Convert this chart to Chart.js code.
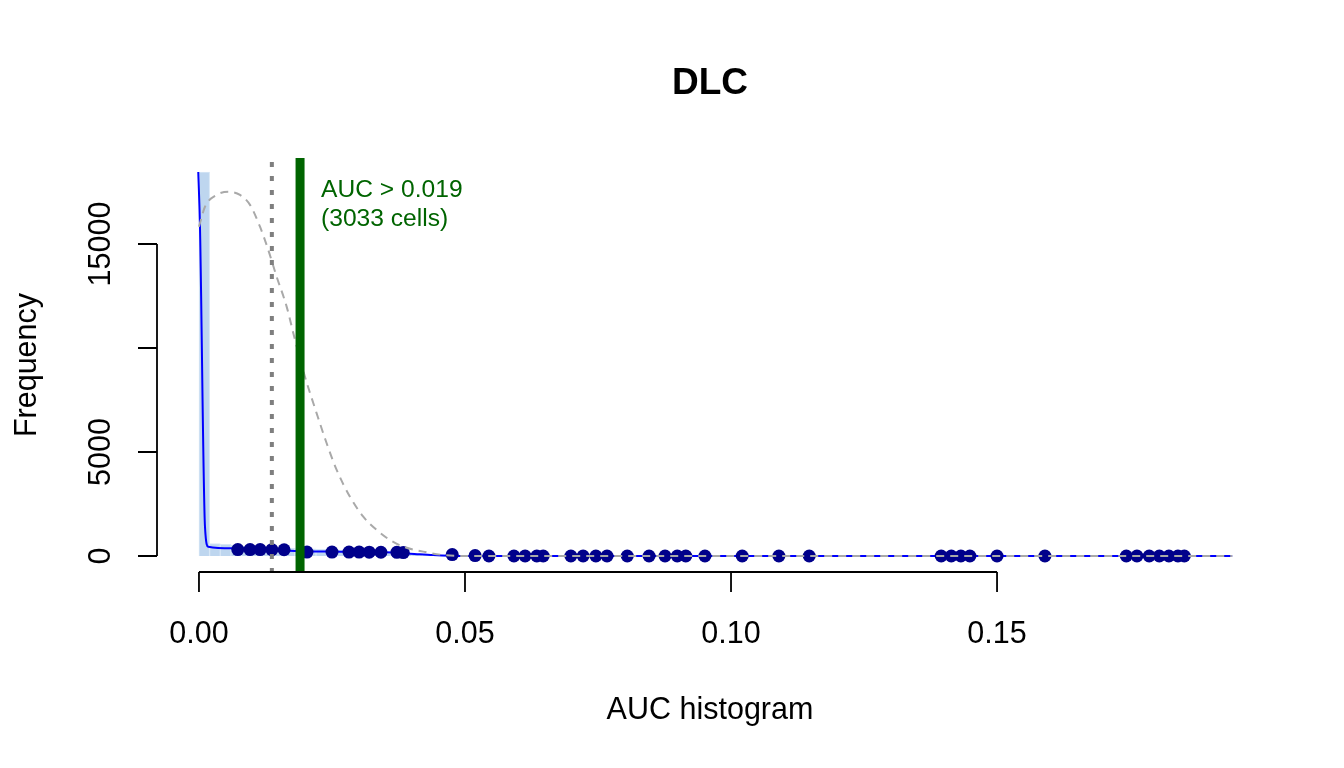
<!DOCTYPE html>
<html>
<head>
<meta charset="utf-8">
<script src="https://cdn.jsdelivr.net/npm/chart.js@4"></script>
<style>
  html, body { margin: 0; padding: 0; background: #fff; }
  canvas { display: block; }
</style>
</head>
<body>
<canvas id="auc-chart" width="1344" height="768"></canvas>
<script>
// titles and axes
const chartTitle = 'DLC';
const xTitle = 'AUC histogram';
const yTitle = 'Frequency';
const xTicks = [0, 0.05, 0.10, 0.15];
const xTickLabels = ['0.00', '0.05', '0.10', '0.15'];
const yTicks = [0, 5000, 10000, 15000];
const yTickLabels = ['0', '5000', '', '15000']; // R drops the 10000 label
const xLimits = [-0.0077, 0.1998];
const yLimits = [-769, 19135];

// threshold lines
const thresholdAUC = 0.019;
const thresholdCells = 3033;
const dottedAUC = 0.0137;

// histogram (bin mids, width 0.002)
const histMids = [0.001, 0.003, 0.005, 0.007, 0.009, 0.011, 0.013, 0.015, 0.017, 0.019,
  0.021, 0.023, 0.025, 0.027, 0.029, 0.031, 0.033, 0.035, 0.037, 0.039,
  0.041, 0.043, 0.045, 0.047];
const histCounts = [18460, 600, 560, 520, 480, 450, 420, 400, 380, 360,
  340, 320, 300, 290, 270, 250, 230, 200, 160, 110,
  70, 35, 15, 5];

// blue density line
const densX = [-0.00013, 0.00019, 0.00113, 0.00175, 0.0064, 0.012, 0.016, 0.020, 0.025,
  0.030, 0.035, 0.038, 0.041, 0.044, 0.047, 0.050, 0.055, 0.1942];
const densY = [18460, 15830, 1410, 447, 370, 340, 270, 230, 215,
  200, 175, 140, 90, 45, 15, 5, 0, 0];

// grey dashed curve
const curveX = [0.0, 0.00113, 0.00333, 0.00551, 0.00771, 0.00959, 0.01147, 0.01303, 0.0146,
  0.01648, 0.01805, 0.01992, 0.02212, 0.024, 0.02588, 0.02838, 0.03088, 0.0334, 0.0359,
  0.0384, 0.04216, 0.04592, 0.0509, 0.1942];
const curveY = [15830, 16790, 17360, 17510, 17360, 16880, 15830, 14710, 13430,
  11990, 10390, 8620, 6860, 5420, 4140, 2850, 1890, 1250, 770,
  450, 210, 50, 0, 0];

// highlighted cells
const cellAUC = [0.0073, 0.0096, 0.0115, 0.0137, 0.0160, 0.0203, 0.0250, 0.0282, 0.0301,
  0.0320, 0.0342, 0.0372, 0.0384, 0.0476, 0.0519, 0.0545, 0.0592, 0.0613, 0.0635,
  0.0647, 0.0699, 0.0722, 0.0746, 0.0767, 0.0805, 0.0846, 0.0876, 0.0899, 0.0915,
  0.0951, 0.1021, 0.1090, 0.1147, 0.1395, 0.1414, 0.1432, 0.1449, 0.1500, 0.1590,
  0.1743, 0.1763, 0.1786, 0.1805, 0.1823, 0.1840, 0.1852];
const cellFreq = [310, 310, 310, 305, 300, 190, 190, 190, 190,
  185, 180, 175, 165, 70, 20, 0, 0, 0, 0,
  0, 0, 0, 0, 0, 0, 0, 0, 0, 0,
  0, 0, 0, 0, 0, 0, 0, 0, 0, 0,
  0, 0, 0, 0, 0, 0, 0];

const FONT = '"Liberation Sans", Arial, Helvetica, sans-serif';

const zip = (xs, ys) => xs.map((x, i) => ({ x: x, y: ys[i] }));

const rStyle = {
  id: 'rStyle',
  afterDatasetsDraw(chart) {
    const { ctx, chartArea, scales } = chart;
    const x = scales.x;
    ctx.save();
    // dotted grey line
    ctx.strokeStyle = '#7f7f7f';
    ctx.lineWidth = 4;
    ctx.setLineDash([5, 9]);
    ctx.beginPath();
    ctx.moveTo(x.getPixelForValue(dottedAUC), chartArea.top + 4);
    ctx.lineTo(x.getPixelForValue(dottedAUC), chartArea.bottom);
    ctx.stroke();
    // threshold
    ctx.setLineDash([]);
    ctx.strokeStyle = '#006400';
    ctx.lineWidth = 9;
    ctx.beginPath();
    ctx.moveTo(x.getPixelForValue(thresholdAUC), chartArea.top);
    ctx.lineTo(x.getPixelForValue(thresholdAUC), chartArea.bottom);
    ctx.stroke();
    ctx.restore();
  },
  afterDraw(chart) {
    const { ctx, chartArea, scales } = chart;
    const x = scales.x, y = scales.y;
    const midX = (chartArea.left + chartArea.right) / 2;
    const midY = (chartArea.top + chartArea.bottom) / 2;
    ctx.save();
    ctx.strokeStyle = '#000';
    ctx.fillStyle = '#000';
    ctx.lineWidth = 1.8;

    // x axis
    const ya = chartArea.bottom;
    ctx.beginPath();
    ctx.moveTo(x.getPixelForValue(xTicks[0]), ya);
    ctx.lineTo(x.getPixelForValue(xTicks[xTicks.length - 1]), ya);
    xTicks.forEach(t => {
      ctx.moveTo(x.getPixelForValue(t), ya);
      ctx.lineTo(x.getPixelForValue(t), ya + 20);
    });
    ctx.stroke();
    ctx.font = '30.5px ' + FONT;
    ctx.textAlign = 'center';
    ctx.textBaseline = 'alphabetic';
    xTicks.forEach((t, i) => ctx.fillText(xTickLabels[i], x.getPixelForValue(t), ya + 71));

    // y axis
    const xa = chartArea.left - 1;
    ctx.beginPath();
    ctx.moveTo(xa, y.getPixelForValue(yTicks[0]));
    ctx.lineTo(xa, y.getPixelForValue(yTicks[yTicks.length - 1]));
    yTicks.forEach(t => {
      ctx.moveTo(xa, y.getPixelForValue(t));
      ctx.lineTo(xa - 19, y.getPixelForValue(t));
    });
    ctx.stroke();
    yTicks.forEach((t, i) => {
      if (!yTickLabels[i]) return;
      ctx.save();
      ctx.translate(xa - 47, y.getPixelForValue(t));
      ctx.rotate(-Math.PI / 2);
      ctx.fillText(yTickLabels[i], 0, 0);
      ctx.restore();
    });

    // axis titles
    ctx.fillText(xTitle, midX, 719);
    ctx.save();
    ctx.translate(35.5, midY);
    ctx.rotate(-Math.PI / 2);
    ctx.fillText(yTitle, 0, 0);
    ctx.restore();

    // main title
    ctx.font = 'bold 37px ' + FONT;
    ctx.fillText(chartTitle, midX, 94);

    // threshold label
    ctx.font = '24.6px ' + FONT;
    ctx.fillStyle = '#006400';
    ctx.textAlign = 'left';
    const tx = x.getPixelForValue(thresholdAUC) + 21;
    ctx.fillText('AUC > ' + thresholdAUC, tx, chartArea.top + 39);
    ctx.fillText('(' + thresholdCells + ' cells)', tx, chartArea.top + 68);
    ctx.restore();
  }
};

const ctx = document.getElementById('auc-chart').getContext('2d');

new Chart(ctx, {
  type: 'scatter',
  data: {
    datasets: [
      {
        type: 'bar',
        data: zip(histMids, histCounts),
        backgroundColor: '#bed6ef',
        borderColor: '#d6e6f6',
        borderWidth: 1,
        barPercentage: 1,
        categoryPercentage: 1,
        order: 5
      },
      {
        type: 'line',
        data: zip(densX, densY),
        borderColor: '#0000ff',
        borderWidth: 2,
        pointRadius: 0,
        fill: false,
        cubicInterpolationMode: 'monotone',
        order: 4
      },
      {
        type: 'scatter',
        data: zip(cellAUC, cellFreq),
        backgroundColor: '#00008b',
        borderWidth: 0,
        pointRadius: 6.5,
        order: 3
      },
      {
        type: 'line',
        data: zip(curveX, curveY),
        borderColor: '#a9a9a9',
        borderWidth: 2,
        borderDash: [8, 6],
        pointRadius: 0,
        fill: false,
        cubicInterpolationMode: 'monotone',
        order: 2
      }
    ]
  },
  options: {
    responsive: false,
    animation: false,
    devicePixelRatio: 1,
    layout: {
      padding: { left: 158, right: 82, top: 158, bottom: 196 }
    },
    scales: {
      x: { type: 'linear', min: xLimits[0], max: xLimits[1], offset: false, display: false },
      y: { type: 'linear', min: yLimits[0], max: yLimits[1], display: false }
    },
    plugins: {
      legend: { display: false },
      tooltip: { enabled: false },
      title: { display: false }
    }
  },
  plugins: [rStyle]
});
</script>
</body>
</html>
